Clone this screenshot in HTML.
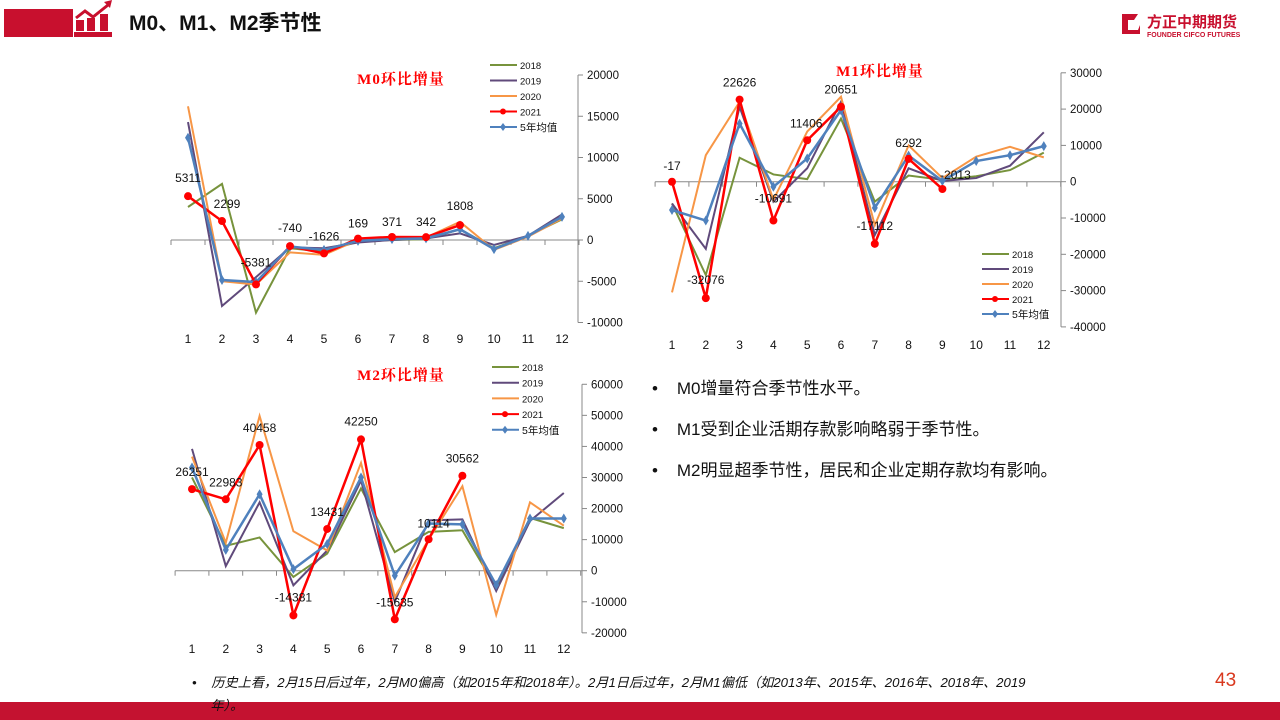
<!DOCTYPE html>
<html><head><meta charset="utf-8"><style>
body{margin:0;width:1280px;height:720px;overflow:hidden;background:#fff;font-family:"Liberation Sans","Noto Sans CJK SC",sans-serif;position:relative}
.b{position:absolute;left:652px;font-size:17px;color:#111}
</style></head><body>
<div style="position:absolute;left:4px;top:9px;width:69px;height:28px;background:#c8102e"></div>
<svg style="position:absolute;left:74px;top:0" width="40" height="38">
<rect x="0" y="32" width="38" height="5" fill="#c8102e"/>
<polyline points="2,18 11,11 19,17 34,5" fill="none" stroke="#c8102e" stroke-width="3"/>
<polygon points="30,2 38,0 36,8" fill="#c8102e"/>
<rect x="2" y="20" width="8" height="11" fill="#c8102e"/><rect x="13" y="18" width="8" height="13" fill="#c8102e"/><rect x="26" y="14" width="8" height="17" fill="#c8102e"/>
</svg>
<div style="position:absolute;left:129px;top:7px;font-size:21px;font-weight:bold;color:#111">M0、M1、M2季节性</div>
<svg style="position:absolute;left:1120px;top:10px" width="160" height="30">
<polygon points="2,4 18,4 14,10 8,10 8,20 18,20 20,15 20,24 2,24" fill="#c8102e"/>
<text x="27" y="17" font-size="15" font-weight="bold" fill="#c8102e" font-family="Noto Sans CJK SC,sans-serif">方正中期期货</text>
<text x="27" y="27" font-size="7" font-weight="bold" fill="#c8102e">FOUNDER CIFCO FUTURES</text>
</svg>
<svg id="s" style="position:absolute;left:0;top:0" width="1280" height="720"></svg>
<div class="b" style="top:374px">•&nbsp;&nbsp;&nbsp;&nbsp;M0增量符合季节性水平。</div>
<div class="b" style="top:415px">•&nbsp;&nbsp;&nbsp;&nbsp;M1受到企业活期存款影响略弱于季节性。</div>
<div class="b" style="top:456px">•&nbsp;&nbsp;&nbsp;&nbsp;M2明显超季节性，居民和企业定期存款均有影响。</div>
<div style="position:absolute;left:0;top:702px;width:1280px;height:18px;background:#c41230"></div>
<div style="position:absolute;left:192px;top:671px;font-size:13.2px;font-style:italic;color:#111;width:860px;line-height:23px;white-space:nowrap">•&nbsp;&nbsp;&nbsp;&nbsp;历史上看，2月15日后过年，2月M0偏高（如2015年和2018年）。2月1日后过年，2月M1偏低（如2013年、2015年、2016年、2018年、2019<br>&nbsp;&nbsp;&nbsp;&nbsp;&nbsp;年）。</div>
<div style="position:absolute;left:1215px;top:670px;font-size:19px;color:#d9381e">43</div>
<script>
const S=document.getElementById('s');let h='';
const C={g:'#77933c',p:'#604a7b',o:'#f79646',r:'#ff0000',b:'#4f81bd'};
function chart(c){
 const X=m=>c.x0+(m-1)*c.dx, Y=v=>c.y0-v*c.k;
 h+=`<line x1="${c.ax}" y1="${Y(c.max)}" x2="${c.ax}" y2="${Y(c.min)}" stroke="#888"/>`;
 for(let v=c.min;v<=c.max;v+=c.st){h+=`<line x1="${c.ax}" y1="${Y(v)}" x2="${c.ax+5}" y2="${Y(v)}" stroke="#888"/><text x="${c.ax+9}" y="${Y(v)+4}" font-size="11.5" fill="#111">${v*1000}</text>`;}
 h+=`<line x1="${c.x0-c.dx/2}" y1="${c.y0}" x2="${c.ax}" y2="${c.y0}" stroke="#888"/>`;
 for(let m=0;m<=12;m++){const x=c.x0-c.dx/2+m*c.dx;h+=`<line x1="${x}" y1="${c.y0}" x2="${x}" y2="${c.y0+5}" stroke="#888"/>`}
 for(let m=1;m<=12;m++)h+=`<text x="${X(m)}" y="${c.ly}" font-size="12" text-anchor="middle" fill="#111">${m}</text>`;
 const pl=(d,col,w)=>{h+=`<polyline points="${d.map((v,i)=>X(i+1)+','+Y(v)).join(' ')}" fill="none" stroke="${col}" stroke-width="${w}"/>`};
 pl(c.g,C.g,2);pl(c.p,C.p,2);pl(c.o,C.o,2);pl(c.r,C.r,2.5);pl(c.b,C.b,2.5);
 c.b.forEach((v,i)=>h+=`<polygon points="${X(i+1)},${Y(v)-5} ${X(i+1)+3},${Y(v)} ${X(i+1)},${Y(v)+5} ${X(i+1)-3},${Y(v)}" fill="${C.b}"/>`);
 c.r.forEach((v,i)=>h+=`<circle cx="${X(i+1)}" cy="${Y(v)}" r="4" fill="${C.r}"/>`);
 c.lab.forEach(([t,i,dx,dy])=>h+=`<text x="${X(i)+dx}" y="${Y(c.r[i-1])+dy}" font-size="12" text-anchor="middle" fill="#111">${t}</text>`);
 h+=`<text x="${c.tx}" y="${c.ty}" font-size="15" font-weight="bold" fill="#ff0000" text-anchor="middle" letter-spacing="1" font-family="Liberation Serif,Noto Serif CJK SC,serif">${c.t}</text>`;
 const n=['2018','2019','2020','2021','5年均值'],cl=[C.g,C.p,C.o,C.r,C.b];
 n.forEach((s,i)=>{const y=c.lgy+i*c.lgs;h+=`<line x1="${c.lgx}" y1="${y}" x2="${c.lgx+27}" y2="${y}" stroke="${cl[i]}" stroke-width="2"/>`;
 if(i==3)h+=`<circle cx="${c.lgx+13}" cy="${y}" r="3" fill="${C.r}"/>`;if(i==4)h+=`<polygon points="${c.lgx+13},${y-4} ${c.lgx+16},${y} ${c.lgx+13},${y+4} ${c.lgx+10},${y}" fill="${C.b}"/>`;
 h+=`<text x="${c.lgx+30}" y="${y+4}" font-size="${i==4?10.5:9.5}" fill="#111">${s}</text>`});
}
chart({x0:188,dx:34,y0:240,k:8.25,ax:578,min:-10,max:20,st:5,ly:343,
 g:[4,6.8,-8.8,-1,-1.4,-0.2,0,0.1,1.3,-1,0.5,2.5],p:[14.3,-8,-4.5,-0.9,-1,-0.3,0,0.2,0.8,-0.6,0.5,3.1],
 o:[16.2,-5,-5.4,-1.5,-1.8,0,0.2,0.3,2.2,-1.2,0.4,2.6],r:[5.311,2.299,-5.381,-0.74,-1.626,0.169,0.371,0.342,1.808],
 b:[12.4,-4.85,-5.1,-0.8,-1.2,-0.1,0.1,0.2,1.3,-1.1,0.5,2.8],
 lab:[['5311',1,0,-14],['2299',2,5,-13],['-5381',3,0,-18],['-740',4,0,-14],['-1626',5,0,-13],['169',6,0,-11],['371',7,0,-11],['342',8,0,-11],['1808',9,0,-15]],
 t:'M0环比增量',tx:401,ty:84,lgx:490,lgy:65,lgs:15.5});
chart({x0:672,dx:33.8,y0:181.7,k:3.63,ax:1061,min:-40,max:30,st:10,ly:349,
 g:[-6,-25.7,6.6,2,0.7,17.4,-5.5,1.7,0.5,1.5,3.2,8],p:[-6,-18.5,20.6,-5.5,3.7,22,-14.7,3.7,0.2,1,4.4,13.6],
 o:[-30.5,7.3,22,-5,13.8,23.4,-12,10,1,6.9,9.6,6.7],r:[-0.017,-32.076,22.626,-10.691,11.406,20.651,-17.112,6.292,-2.013],
 b:[-7.8,-10.7,16,-1.4,6.4,19.7,-7.2,7.2,0.2,5.7,7.3,9.8],
 lab:[['-17',1,0,-12],['-32076',2,0,-14],['22626',3,0,-13],['-10691',4,0,-18],['11406',5,-1,-13],['20651',6,0,-13],['-17112',7,0,-14],['6292',8,0,-12],['-2013',9,13,-10]],
 t:'M1环比增量',tx:880,ty:76,lgx:982,lgy:254,lgs:15});
chart({x0:192,dx:33.8,y0:570.7,k:3.107,ax:582,min:-20,max:60,st:10,ly:653,
 g:[30,8,10.7,-2,5.5,26.5,6,12.5,13,-5.5,17,13.7],p:[39.2,1.5,22,-4.7,6.5,29,-10,16.2,16.5,-6.5,16,25],
 o:[36.7,9,49.8,12.7,6.5,34.7,-8.5,10,27.2,-14.2,22,14.5],r:[26.251,22.983,40.458,-14.381,13.431,42.25,-15.635,10.114,30.562],
 b:[33.2,6.7,24.6,0.5,8.6,30,-1.6,15.2,14.9,-4.6,16.8,16.8],
 lab:[['26251',1,0,-13],['22983',2,0,-13],['40458',3,0,-13],['-14381',4,0,-14],['13431',5,0,-13],['42250',6,0,-14],['-15635',7,0,-13],['10114',8,5,-12],['30562',9,0,-13]],
 t:'M2环比增量',tx:401,ty:380,lgx:492,lgy:367,lgs:15.7});
S.innerHTML=h;
</script>
</body></html>
